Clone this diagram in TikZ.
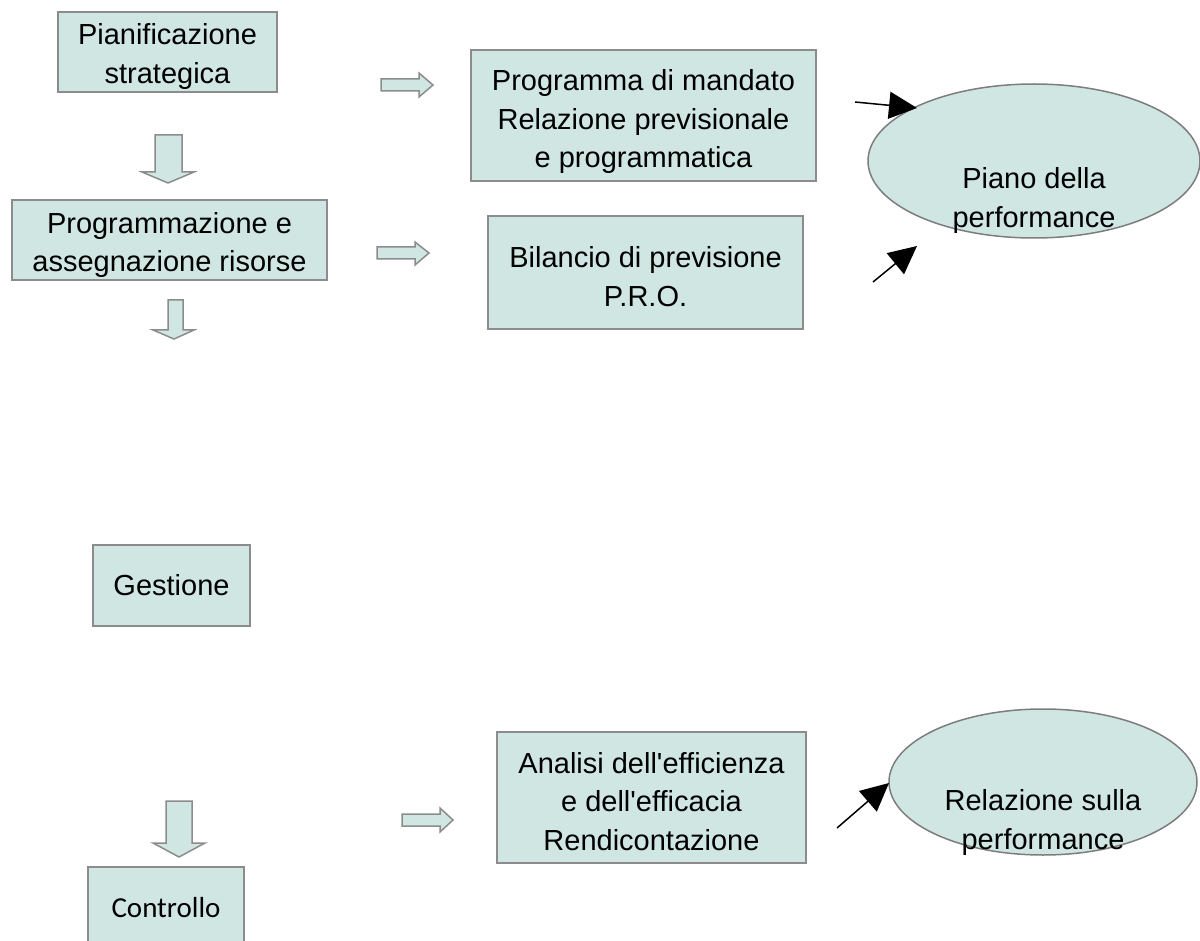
\documentclass[tikz,border=0pt]{standalone}
\usepackage{fontspec}
\setmainfont[Ligatures=TeXOff]{Liberation Sans}
\newfontfamily\calibrifont[Ligatures=TeXOff]{Carlito}
\usetikzlibrary{shapes.geometric,arrows.meta}
\definecolor{boxfill}{RGB}{207,230,227}
\definecolor{boxline}{RGB}{140,140,140}
\definecolor{ovalline}{RGB}{125,125,125}
\begin{document}
\begin{tikzpicture}[x=1pt,y=-1pt,
  txt/.style={font=\fontsize{29}{38.5}\selectfont, align=center, inner sep=0pt},
  box/.style={draw=boxline, fill=boxfill, line width=2pt, rectangle, inner sep=0pt},
  oval/.style={draw=ovalline, fill=boxfill, line width=1.5pt, ellipse, inner sep=0pt},
  blk/.style={draw=boxline, fill=boxfill, line width=1.5pt, line join=miter},
  pointer/.style={line width=1.5pt, -{Triangle[length=28pt,width=27pt]}}]
\useasboundingbox (0,0) rectangle (1200,941);

% left column boxes
\node[box, minimum width=219pt, minimum height=80pt] (pian) at (167.5,52) {};
\node[txt] (piant) at ([yshift=-4.5pt]pian.center) {Pianificazione\\strategica};
\node[box, minimum width=315pt, minimum height=80pt] (prog) at (169.5,240) {};
\node[txt] (progt) at ([yshift=-5pt]prog.center) {Programmazione e\\assegnazione risorse};
\node[box, minimum width=157pt, minimum height=81pt] (gest) at (171.5,585.5) {};
\node[txt] (gestt) at (gest.center) {Gestione};
\node[box, minimum width=156pt, minimum height=81pt] (ctrl) at (166,907.5) {};
\node[txt, font=\calibrifont\fontsize{29}{38.5}\selectfont] (ctrlt) at (ctrl.center) {Controllo};

% middle column boxes
\node[box, minimum width=345pt, minimum height=131pt] (mand) at (643.5,115.5) {};
\node[txt] (mandt) at ([yshift=-6.5pt]mand.center) {Programma di mandato\\Relazione previsionale\\e programmatica};
\node[box, minimum width=315pt, minimum height=113pt] (bil) at (645.5,272.5) {};
\node[txt] (bilt) at ([yshift=-4pt]bil.center) {Bilancio di previsione\\P.R.O.};
\node[box, minimum width=309pt, minimum height=131pt] (anal) at (651.5,797.5) {};
\node[txt] (analt) at ([yshift=-4pt]anal.center) {Analisi dell'efficienza\\e dell'efficacia\\Rendicontazione};

% ellipses
\node[oval, minimum width=332pt, minimum height=154pt] (piano) at (1034,161) {};
\node[txt] (pianotxt) at ([yshift=-39.5pt]piano.center) {Piano della\\performance};
\node[oval, minimum width=308pt, minimum height=146pt] (rel) at (1043,782) {};
\node[txt] (reltxt) at ([yshift=-40.5pt]rel.center) {Relazione sulla\\performance};

% block arrows (down)
\draw[blk] (155,135) -- (182,135) -- (182,172) -- (194,172) -- (168,183) -- (142,172) -- (155,172) -- cycle;
\draw[blk] (168,300) -- (183,300) -- (183,330) -- (194,330) -- (174,339) -- (153,330) -- (168,330) -- cycle;
\draw[blk] (166,801) -- (192,801) -- (192,843) -- (205,843) -- (179,857) -- (153,843) -- (166,843) -- cycle;

% block arrows (right)
\draw[blk] (381,79) -- (419,79) -- (419,73) -- (433,85) -- (419,97) -- (419,91) -- (381,91) -- cycle;
\draw[blk] (377,247) -- (415,247) -- (415,242) -- (429,253) -- (415,265) -- (415,259) -- (377,259) -- cycle;
\draw[blk] (402,814) -- (440,814) -- (440,808) -- (453,820) -- (440,832) -- (440,826) -- (402,826) -- cycle;

% black pointers
\coordinate (p1s) at (855,102);
\coordinate (p1e) at (917,108);
\coordinate (p2s) at (873,282);
\coordinate (p2e) at (917,246);
\coordinate (p3s) at (837,828);
\coordinate (p3e) at (889,783);
\draw[pointer] (p1s) -- (p1e);
\draw[pointer] (p2s) -- (p2e);
\draw[pointer] (p3s) -- (p3e);
\end{tikzpicture}
\end{document}
